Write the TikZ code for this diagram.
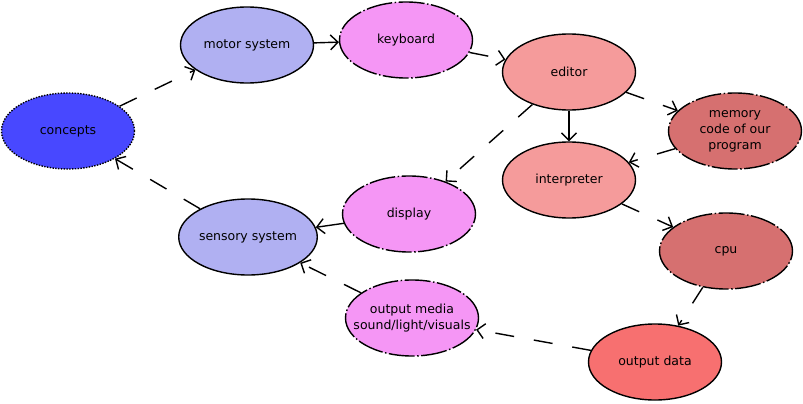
\documentclass[tikz,border=0pt]{standalone}
\usepackage{fontspec}
\setmainfont{DejaVu Sans}
\usetikzlibrary{arrows.meta,shapes.geometric}
\definecolor{cblue}{RGB}{72,72,255}
\definecolor{clav}{RGB}{176,176,242}
\definecolor{cpink}{RGB}{245,150,245}
\definecolor{csalmon}{RGB}{245,155,155}
\definecolor{cbrick}{RGB}{214,112,112}
\definecolor{cred}{RGB}{247,112,112}
\tikzset{
  ell/.style={ellipse, draw=black, line width=1.4pt, minimum width=133pt, minimum height=76pt, inner sep=0pt, align=center, font=\fontsize{12.5}{16}\selectfont},
  dotb/.style={dash pattern=on 1.4pt off 1.4pt},
  dashdotb/.style={dash pattern=on 26pt off 2.5pt on 1.5pt off 2.5pt},
  arr/.style={line width=1.4pt, -{Straight Barb[length=7.5pt,width=15pt,line width=1.4pt]}},
  darr/.style={arr, dash pattern=on 19pt off 20pt},
  txt/.style={align=center, font=\fontsize{12.5}{16}\selectfont, inner sep=0pt},
}
\begin{document}
\begin{tikzpicture}[x=1pt,y=-1pt]
\useasboundingbox (0,0) rectangle (803,404);
\node[ell, fill=cblue, dotb] (concepts) at (68,131) {concepts};
\node[ell, fill=clav] (motor) at (247,45) {motor system};
\node[ell, fill=cpink, dashdotb] (keyboard) at (406,40) {keyboard};
\node[ell, fill=csalmon] (editor) at (569,72) {editor};
\node[ell, fill=cbrick, dashdotb] (memory) at (735,131) {memory\\code of our\\program};
\node[ell, fill=csalmon] (interp) at (569,180) {interpreter};
\node[ell, fill=cbrick, dashdotb] (cpu) at (726,251) {cpu};
\node[ell, fill=cpink, dashdotb] (display) at (409,214) {display};
\node[ell, fill=clav] (sensory) at (248,237) {sensory system};
\node[ell, fill=cpink, dashdotb] (media) at (412,318) {};
\node[txt] (mediatext) at (media.center) {output media\\sound/light/visuals};
\node[ell, fill=cred] (odata) at (655,362) {output data};

\draw[darr] (concepts) -- (motor);
\draw[arr] (motor) -- (keyboard);
\draw[darr] (keyboard) -- (editor);
\draw[darr] (editor) -- (memory);
\draw[arr] (editor) -- (interp);
\draw[darr] (editor) -- (display);
\draw[darr] (memory) -- (interp);
\draw[darr] (interp) -- (cpu);
\draw[darr] (cpu) -- (odata);
\draw[darr] (odata) -- (media);
\draw[arr] (display) -- (sensory);
\draw[darr] (media) -- (sensory);
\draw[darr] (sensory) -- (concepts);
\end{tikzpicture}
\end{document}
